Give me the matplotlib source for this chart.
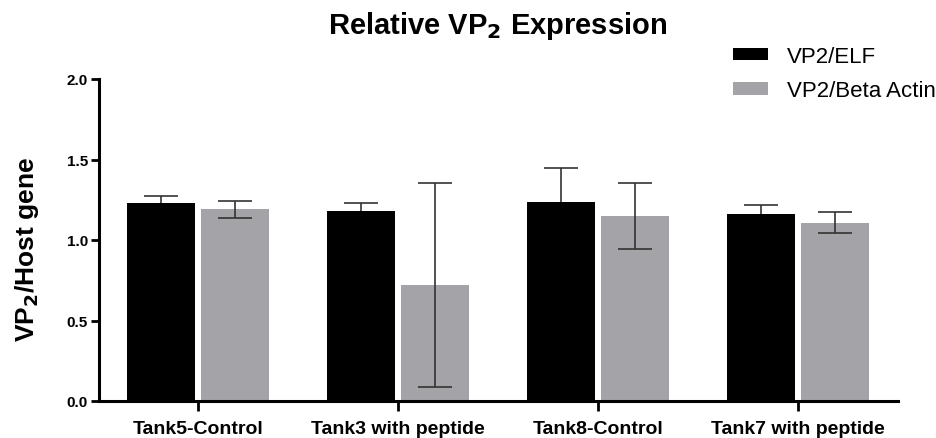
# Relative VP2 expression bar chart (grouped bars with SD error bars)

import matplotlib.pyplot as plt
import numpy as np

plt.rcParams['font.family'] = ['Liberation Sans', 'DejaVu Sans']

# data:
groups = ["Tank5-Control", "Tank3 with peptide", "Tank8-Control", "Tank7 with peptide"]
elf_mean = [1.228, 1.182, 1.236, 1.160]
elf_err = [0.048, 0.050, 0.213, 0.056]
actin_mean = [1.190, 0.720, 1.149, 1.108]
actin_err = [0.052, 0.633, 0.205, 0.063]
series_names = ["VP2/ELF", "VP2/Beta Actin"]

black = "#000000"
grey = "#a4a3a8"

fig = plt.figure(figsize=(9.37, 4.39), dpi=100)
ax = fig.add_axes([99 / 937, 37 / 439, 799 / 937, 322 / 439])

x = np.arange(len(groups))
w = 0.34
off = 0.185

# black bars drawn over their error bars so only the upper half shows
ax.bar(x - off, elf_mean, w, color=black, label=series_names[0], zorder=2)
ax.errorbar(x - off, elf_mean, yerr=elf_err, fmt="none",
            ecolor="#333333", elinewidth=1.2, capsize=12.5, capthick=1.2, zorder=1)
ax.bar(x + off, actin_mean, w, color=grey, label=series_names[1], zorder=2)
ax.errorbar(x + off, actin_mean, yerr=actin_err, fmt="none",
            ecolor="#333333", elinewidth=1.2, capsize=12.5, capthick=1.2, zorder=3)

ax.set_xlim(-0.495, 3.5)
ax.set_ylim(0, 2.0)
ax.set_yticks([0.0, 0.5, 1.0, 1.5, 2.0])
ax.set_yticklabels(["0.0", "0.5", "1.0", "1.5", "2.0"], fontweight="bold", fontsize=11)
ax.set_xticks(x)
ax.set_xticklabels(groups, fontweight="bold", fontsize=14)

for s in ["top", "right"]:
    ax.spines[s].set_visible(False)
for s in ["left", "bottom"]:
    ax.spines[s].set_linewidth(2.2)
ax.tick_params(axis="y", length=6, width=2, pad=2)
ax.tick_params(axis="x", length=7, width=2, pad=7)

ax.set_ylabel("VP$_\\mathbf{2}$/Host gene", fontsize=19, fontweight="bold")
ax.yaxis.set_label_coords(-0.073, 0.475)
fig.text(498 / 937, 0.94, "Relative VP$_\\mathbf{2}$ Expression", ha="center", va="center",
         fontsize=21, fontweight="bold")

fig.legend(loc="upper left", bbox_to_anchor=(733 / 937, 1 - 47 / 439), frameon=False,
           fontsize=16, handlelength=1.58, handleheight=0.5, labelspacing=0.6,
           handletextpad=0.85, borderpad=0, borderaxespad=0)

fig.savefig("out.png", dpi=100)
